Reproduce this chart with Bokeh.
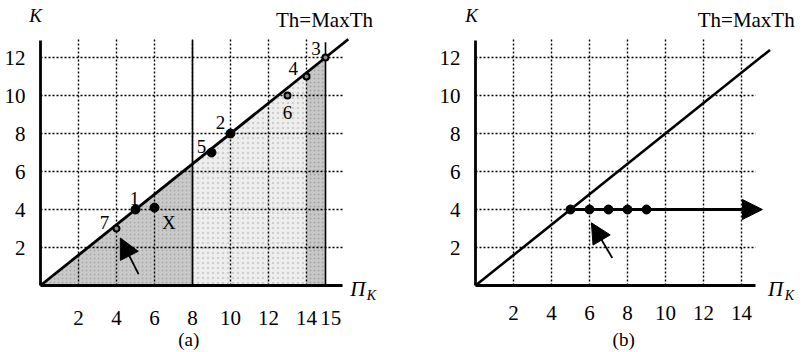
from bokeh.plotting import figure
from bokeh.layouts import row
from bokeh.models import LinearAxis, FixedTicker, Arrow, NormalHead, Range1d
from bokeh.core.properties import value
from bokeh.embed import file_html
from bokeh.resources import INLINE

SERIF = "Liberation Serif"

# ---- data -------------------------------------------------------------
# panel (a): labelled states in the (Pi_K, K) plane
a_big_x = [5, 6, 9, 10]
a_big_y = [4, 4.1, 7, 8]
a_small_x = [4, 13, 14, 15]
a_small_y = [3, 10, 11, 12]
a_lab_text = ["1", "X", "7", "5", "2", "6", "4", "3"]
a_lab_x = [4.95, 6.75, 3.37, 8.47, 9.47, 13.0, 13.3, 14.5]
a_lab_y = [4.6, 3.3, 3.3, 7.3, 8.6, 9.1, 11.4, 12.5]
a_xticks = [2, 4, 6, 8, 10, 12, 14, 15]

# panel (b): states moving along K = 4
b_pts_x = [5, 6, 7, 8, 9]
b_pts_y = [4, 4, 4, 4, 4]
b_xticks = [2, 4, 6, 8, 10, 12, 14]

yticks = [2, 4, 6, 8, 10, 12]
grid_x = [2, 4, 6, 8, 10, 12, 14]
grid_y = [2, 4, 6, 8, 10, 12]
slope = 0.8  # threshold line K = 0.8 * Pi_K

PX = 19.0       # pixels per unit
OX_A, OX_B, OY = 40, 69, 285
W, H = 406, 352


def grid(p, xbound):
    p.segment(x0=grid_x, y0=[0] * len(grid_x), x1=grid_x, y1=[12.95] * len(grid_x),
              line_color="black", line_width=1.4, line_dash="2 2")
    p.segment(x0=[0] * len(grid_y), y0=grid_y, x1=[xbound] * len(grid_y), y1=grid_y,
              line_color="black", line_width=1.4, line_dash="2 2")


def base(ox, xticks, xbound, ybound, overrides=None):
    p = figure(width=W, height=H, output_backend="svg", toolbar_location=None,
               x_axis_type=None, y_axis_type=None, min_border=0,
               outline_line_color=None, background_fill_color="white")
    p.x_range = Range1d(-ox / PX, (W - ox) / PX)
    p.y_range = Range1d(-(H - OY) / PX, OY / PX)
    p.xgrid.visible = False
    p.ygrid.visible = False

    xa = LinearAxis(fixed_location=0, bounds=(0, xbound),
                    ticker=FixedTicker(ticks=xticks))
    if overrides:
        xa.major_label_overrides = overrides
    ya = LinearAxis(fixed_location=0, bounds=(0, ybound),
                    ticker=FixedTicker(ticks=yticks))
    for ax, so in ((xa, 14), (ya, 9)):
        ax.axis_line_width = 2.8
        ax.axis_line_color = "black"
        ax.major_tick_line_color = None
        ax.minor_tick_line_color = None
        ax.major_label_text_font = SERIF
        ax.major_label_text_font_size = "21px"
        ax.major_label_text_color = "black"
        ax.major_label_standoff = so
    p.add_layout(xa, "below")
    p.add_layout(ya, "left")
    return p


def labels(p, kx, thx, pix, cap):
    txt = dict(text_font=value(SERIF), text_color="black")
    p.text(x=[kx], y=[14.2], text=["K"], text_font_size=value("19px"),
           text_font_style="italic", text_align="center", text_baseline="middle", **txt)
    p.text(x=[thx], y=[13.95], text=["Th=MaxTh"], text_font_size=value("21px"),
           text_align="right", text_baseline="middle", **txt)
    p.text(x=[pix], y=[-0.16], text=["Π"], text_font_size=value("21px"),
           text_font_style="italic", text_align="center", text_baseline="middle", **txt)
    p.text(x=[pix + 0.72], y=[-0.55], text=["K"], text_font_size=value("14px"),
           text_font_style="italic", text_align="center", text_baseline="middle", **txt)
    p.text(x=[7.8], y=[-2.85], text=[cap], text_font_size=value("19px"),
           text_align="center", text_baseline="middle", **txt)


# ---- panel (a) ----------------------------------------------------------
pa = base(OX_A, a_xticks, 15.9, 12.9, overrides={15: "\u00a0\u00a015"})
# shaded region under the threshold line
pa.patch(x=[0, 8, 8], y=[0, 8 * slope, 0], fill_color="#cacaca", line_color=None,
         hatch_pattern="dot", hatch_color="#8a8a8a", hatch_scale=4, hatch_alpha=0.5)
pa.patch(x=[8, 8, 15, 15], y=[0, 8 * slope, 15 * slope, 0], fill_color="#eeeeee",
         line_color=None, hatch_pattern="dot", hatch_color="#b0b0b0", hatch_scale=5,
         hatch_alpha=0.5)
pa.patch(x=[14, 14, 15, 15], y=[0, 14 * slope, 15 * slope, 0], fill_color="#c8c8c8",
         line_color=None, hatch_pattern="dot", hatch_color="#8a8a8a", hatch_scale=4,
         hatch_alpha=0.6)
grid(pa, 15.9)
pa.segment(x0=[8, 15], y0=[0, 0], x1=[8, 15], y1=[12.9, 12.8],
           line_color="black", line_width=1.6)
pa.line(x=[0, 16.2], y=[0, 16.2 * slope], line_color="black", line_width=2.8)
pa.scatter(x=a_big_x, y=a_big_y, size=9, color="black")
pa.scatter(x=a_small_x, y=a_small_y, size=6, fill_color="#888888",
           line_color="black", line_width=2)
pa.text(x=a_lab_x, y=a_lab_y, text=a_lab_text, text_font=value(SERIF),
        text_font_size=value("19px"), text_align="center", text_baseline="middle",
        text_color="black")
pa.add_layout(Arrow(end=NormalHead(size=20, fill_color="black", line_color="black"),
                    x_start=5.16, y_start=0.6, x_end=4.2, y_end=2.5,
                    line_width=1.8, line_color="black"))
labels(pa, -0.26, 17.5, 16.7, "(a)")

# ---- panel (b) ----------------------------------------------------------
pb = base(OX_B, b_xticks, 14.75, 12.9)
grid(pb, 14.75)
pb.line(x=[0, 15.5], y=[0, 15.5 * slope], line_color="black", line_width=2.6)
pb.add_layout(Arrow(end=NormalHead(size=20, fill_color="black", line_color="black"),
                    x_start=5, y_start=4, x_end=15.1, y_end=4,
                    line_width=2.8, line_color="black"))
pb.scatter(x=b_pts_x, y=b_pts_y, size=9, color="black")
pb.add_layout(Arrow(end=NormalHead(size=20, fill_color="black", line_color="black"),
                    x_start=7.2, y_start=1.45, x_end=6.1, y_end=3.3,
                    line_width=1.8, line_color="black"))
labels(pb, -0.2, 16.8, 15.8, "(b)")

layout = row(pa, pb)
open("out.html", "w").write(file_html(layout, INLINE))
